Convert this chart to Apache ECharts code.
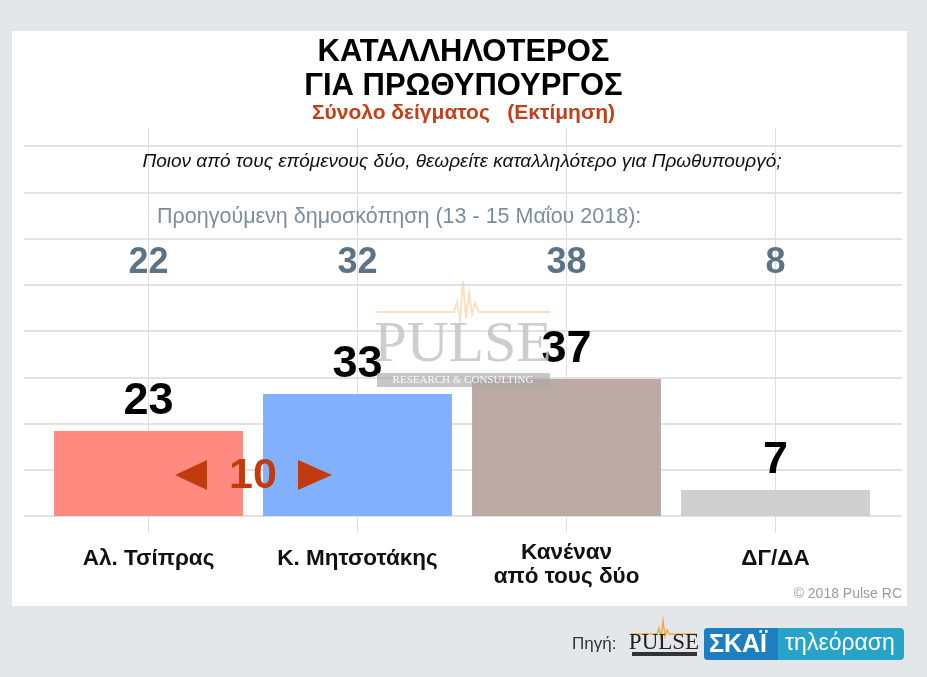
<!DOCTYPE html>
<html><head><meta charset="utf-8">
<script src="https://cdn.jsdelivr.net/npm/echarts@6/dist/echarts.min.js"></script>
<style>html,body{margin:0;padding:0;background:#e4e7ea}#c{width:927px;height:677px}</style>
</head><body><div id="c"></div>
<script>
// ---- data ----
const categories = ['Αλ. Τσίπρας', 'Κ. Μητσοτάκης', 'Κανέναν\nαπό τους δύο', 'ΔΓ/ΔΑ'];
const currentValues = [23, 33, 37, 7];
const previousValues = [22, 32, 38, 8];
const valueMin = 0, valueMax = 100, valueStep = 12.5;
const titleLines = ['ΚΑΤΑΛΛΗΛΟΤΕΡΟΣ', 'ΓΙΑ ΠΡΩΘΥΠΟΥΡΓΟΣ'];
const subtitleText = 'Σύνολο δείγματος   (Εκτίμηση)';
const questionText = 'Ποιον από τους επόμενους δύο, θεωρείτε καταλληλότερο για Πρωθυπουργό;';
const previousLabel = 'Προηγούμενη δημοσκόπηση (13 - 15 Μαΐου 2018):';
const copyrightText = '© 2018 Pulse RC';
const sourceText = 'Πηγή:';

// ---- styles ----
const FONT = 'Arial, "Liberation Sans", sans-serif';
const SERIF = '"Liberation Serif", "Times New Roman", serif';
const barColors = ['#ff8a80', '#82b1ff', '#bcaaa4', '#cfcfcf'];

const chart = echarts.init(document.getElementById('c'), null, {renderer: 'canvas'});

const catData = categories.map(c => c.indexOf('\n') >= 0 ? c : {value: c, textStyle: {padding: [6, 0, 0, 0]}});

chart.setOption({
  backgroundColor: '#e4e7ea',
  animation: false,
  textStyle: {fontFamily: FONT},
  title: [{
    text: titleLines.join('\n'),
    subtext: subtitleText,
    left: 'center', top: 35, padding: 0, itemGap: 0,
    textStyle: {fontSize: 31, fontWeight: 'bold', color: '#000', lineHeight: 34, fontFamily: FONT},
    subtextStyle: {fontSize: 21, fontWeight: 'bold', color: '#c1401a', lineHeight: 20, fontFamily: FONT}
  }],
  grid: [
    {left: 12, top: 31, width: 895, height: 575, show: true, backgroundColor: '#ffffff', borderWidth: 0},
    {left: 24, top: 146, width: 878, height: 370},
    {left: 44, top: 146, width: 836, height: 370},
    {left: 148.5, top: 128, width: 627, height: 405}
  ],
  xAxis: [
    {gridIndex: 0, type: 'value', show: false},
    {gridIndex: 1, type: 'value', show: false},
    {gridIndex: 2, type: 'category', data: catData,
      axisLine: {show: false}, axisTick: {show: false}, splitLine: {show: false},
      axisLabel: {margin: 25, fontSize: 22.5, fontWeight: 'bold', color: '#111', lineHeight: 24, fontFamily: FONT, interval: 0}},
    {gridIndex: 3, type: 'category', data: categories, boundaryGap: false,
      axisLine: {show: false}, axisTick: {show: false}, axisLabel: {show: false},
      splitLine: {show: true, lineStyle: {color: '#dedede', width: 1}}}
  ],
  yAxis: [
    {gridIndex: 0, type: 'value', show: false},
    {gridIndex: 1, type: 'value', min: valueMin, max: valueMax, interval: valueStep,
      axisLine: {show: false}, axisTick: {show: false}, axisLabel: {show: false},
      splitLine: {show: true, lineStyle: {color: '#e2e2e2', width: 2}}},
    {gridIndex: 2, type: 'value', min: valueMin, max: valueMax, show: false},
    {gridIndex: 3, type: 'value', show: false}
  ],
  series: [{
    type: 'bar', xAxisIndex: 2, yAxisIndex: 2,
    barCategoryGap: '9.6%',
    data: currentValues.map((v, i) => ({value: v, itemStyle: {color: barColors[i]}})),
    label: {show: true, position: 'top', distance: 7, fontSize: 45, fontWeight: 'bold', color: '#000', fontFamily: FONT},
    z: 2
  }]
});

const cx = i => chart.convertToPixel({xAxisIndex: 2}, i);
const graphics = [];

// question and previous-poll line
graphics.push({type: 'text', x: 462, y: 162, z: 50, style: {text: questionText, font: 'italic 19px ' + FONT, fill: '#111', align: 'center', verticalAlign: 'middle'}});
graphics.push({type: 'text', x: 157, y: 217, z: 50, style: {text: previousLabel, font: '21.5px ' + FONT, fill: '#7c8d9c', align: 'left', verticalAlign: 'middle'}});
previousValues.forEach((v, i) => {
  graphics.push({type: 'text', x: cx(i), y: 263, z: 50, style: {text: String(v), font: 'bold 36px ' + FONT, fill: '#5b7384', align: 'center', verticalAlign: 'middle'}});
});

// difference marker
const diff = Math.abs(currentValues[1] - currentValues[0]);
const dx = (cx(0) + cx(1)) / 2, dy = 475;
const diffColor = '#c23b0e';
graphics.push({type: 'text', x: dx, y: dy + 1, z: 60, style: {text: String(diff), font: 'bold 43px ' + FONT, fill: diffColor, align: 'center', verticalAlign: 'middle'}});
graphics.push({type: 'polygon', z: 60, shape: {points: [[dx - 78, dy], [dx - 46, dy - 15], [dx - 46, dy + 15]]}, style: {fill: diffColor}});
graphics.push({type: 'polygon', z: 60, shape: {points: [[dx + 45, dy - 15], [dx + 45, dy + 15], [dx + 79, dy]]}, style: {fill: diffColor}});

// copyright
graphics.push({type: 'text', x: 902, y: 594, z: 50, style: {text: copyrightText, font: '14px ' + FONT, fill: '#9a9a9a', align: 'right', verticalAlign: 'middle'}});

// watermark
graphics.push({type: 'polyline', z: 40, shape: {points: [[377, 312], [454, 312], [457, 302], [460, 320], [463, 281], [466, 318], [469, 293], [472, 314], [475, 303], [479, 312], [550, 312]]},
  style: {stroke: '#f6d4a8', lineWidth: 2, fill: null, opacity: 0.7}});
graphics.push({type: 'text', x: 463, y: 346, z: 40, style: {text: 'PULSE', font: '58px ' + SERIF, fill: '#c4c4c4', align: 'center', verticalAlign: 'middle', opacity: 0.85}});
graphics.push({type: 'rect', z: 40, shape: {x: 377, y: 373, width: 173, height: 14}, style: {fill: '#a9a9a9', opacity: 0.65}});
graphics.push({type: 'text', x: 463, y: 380.5, z: 41, style: {text: 'RESEARCH & CONSULTING', font: '11px ' + SERIF, fill: '#ffffff', align: 'center', verticalAlign: 'middle', opacity: 0.9}});

// footer: source
graphics.push({type: 'text', x: 572, y: 644, z: 50, style: {text: sourceText, font: '17px ' + FONT, fill: '#333', align: 'left', verticalAlign: 'middle'}});
graphics.push({type: 'polyline', z: 50, shape: {points: [[631, 634], [657, 634], [659, 628], [661, 638], [663, 621], [665, 636], [667, 630], [669, 634], [697, 634]]},
  style: {stroke: '#f0a848', lineWidth: 1.5, fill: null}});
graphics.push({type: 'text', x: 664, y: 643, z: 50, style: {text: 'PULSE', font: '23px ' + SERIF, fill: '#222', align: 'center', verticalAlign: 'middle'}});
graphics.push({type: 'rect', z: 50, shape: {x: 632, y: 652, width: 65, height: 4}, style: {fill: '#333'}});

// SKAI badge
graphics.push({type: 'rect', z: 50, shape: {x: 704, y: 628, width: 200, height: 32, r: 4}, style: {fill: '#27a3c8'}});
graphics.push({type: 'rect', z: 51, shape: {x: 704, y: 628, width: 74, height: 32, r: [4, 0, 0, 4]}, style: {fill: '#1d7fc0'}});
graphics.push({type: 'text', x: 709, y: 645, z: 52, style: {text: 'ΣΚΑΪ', font: 'bold 25px ' + FONT, fill: '#fff', align: 'left', verticalAlign: 'middle'}});
graphics.push({type: 'text', x: 785, y: 644, z: 52, style: {text: 'τηλεόραση', font: '23px ' + FONT, fill: '#fff', align: 'left', verticalAlign: 'middle'}});

chart.setOption({graphic: graphics});
</script></body></html>
